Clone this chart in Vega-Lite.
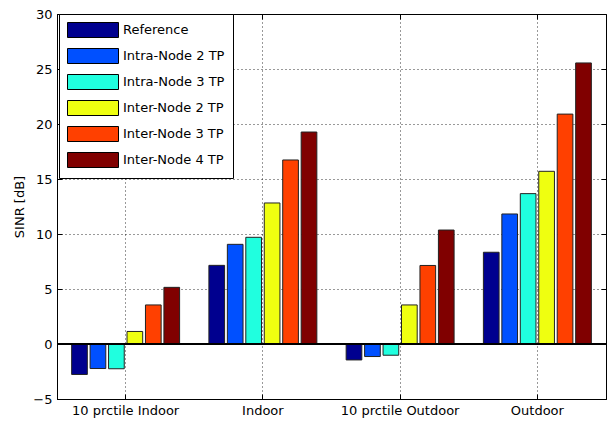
{
  "$schema": "https://vega.github.io/schema/vega-lite/v6.json",
  "autosize": {"type": "none"},
  "padding": {"left": 57, "top": 14, "right": 4, "bottom": 23},
  "width": 549,
  "height": 385,
  "background": "white",
  "config": {
    "view": {"stroke": "black", "strokeWidth": 1},
    "font": "DejaVu Sans",
    "axis": {
      "labelFont": "DejaVu Sans",
      "labelFontSize": 13,
      "labelColor": "black",
      "titleFont": "DejaVu Sans",
      "titleFontSize": 13,
      "titleFontWeight": "normal",
      "titleColor": "black",
      "domainColor": "black",
      "tickColor": "black",
      "gridColor": "black",
      "gridDash": [1, 3],
      "gridOpacity": 0.8,
      "tickSize": -5,
      "zindex": 1
    }
  },
  "data": {
    "values": [
      {"cat": "10 prctile Indoor", "series": "Reference", "v": -2.77},
      {"cat": "10 prctile Indoor", "series": "Intra-Node 2 TP", "v": -2.23},
      {"cat": "10 prctile Indoor", "series": "Intra-Node 3 TP", "v": -2.25},
      {"cat": "10 prctile Indoor", "series": "Inter-Node 2 TP", "v": 1.14},
      {"cat": "10 prctile Indoor", "series": "Inter-Node 3 TP", "v": 3.55},
      {"cat": "10 prctile Indoor", "series": "Inter-Node 4 TP", "v": 5.15},
      {"cat": "Indoor", "series": "Reference", "v": 7.15},
      {"cat": "Indoor", "series": "Intra-Node 2 TP", "v": 9.06},
      {"cat": "Indoor", "series": "Intra-Node 3 TP", "v": 9.7},
      {"cat": "Indoor", "series": "Inter-Node 2 TP", "v": 12.82},
      {"cat": "Indoor", "series": "Inter-Node 3 TP", "v": 16.73},
      {"cat": "Indoor", "series": "Inter-Node 4 TP", "v": 19.27},
      {"cat": "10 prctile Outdoor", "series": "Reference", "v": -1.45},
      {"cat": "10 prctile Outdoor", "series": "Intra-Node 2 TP", "v": -1.14},
      {"cat": "10 prctile Outdoor", "series": "Intra-Node 3 TP", "v": -1.02},
      {"cat": "10 prctile Outdoor", "series": "Inter-Node 2 TP", "v": 3.55},
      {"cat": "10 prctile Outdoor", "series": "Inter-Node 3 TP", "v": 7.14},
      {"cat": "10 prctile Outdoor", "series": "Inter-Node 4 TP", "v": 10.36},
      {"cat": "Outdoor", "series": "Reference", "v": 8.34},
      {"cat": "Outdoor", "series": "Intra-Node 2 TP", "v": 11.82},
      {"cat": "Outdoor", "series": "Intra-Node 3 TP", "v": 13.67},
      {"cat": "Outdoor", "series": "Inter-Node 2 TP", "v": 15.7},
      {"cat": "Outdoor", "series": "Inter-Node 3 TP", "v": 20.9},
      {"cat": "Outdoor", "series": "Inter-Node 4 TP", "v": 25.55}
    ]
  },
  "resolve": {"axis": {"x": "independent", "y": "independent"}},
  "layer": [
    {
      "mark": {"type": "bar", "stroke": "#222222", "strokeWidth": 1},
      "encoding": {
        "x": {
          "field": "cat", "type": "nominal",
          "sort": ["10 prctile Indoor", "Indoor", "10 prctile Outdoor", "Outdoor"],
          "scale": {"paddingInner": 0.2, "paddingOuter": 0.1},
          "axis": {"orient": "bottom", "title": null, "labelAngle": 0, "grid": true, "labelPadding": 10, "domain": true}
        },
        "xOffset": {
          "field": "series", "type": "nominal",
          "sort": ["Reference", "Intra-Node 2 TP", "Intra-Node 3 TP", "Inter-Node 2 TP", "Inter-Node 3 TP", "Inter-Node 4 TP"],
          "scale": {"paddingInner": 0.15, "paddingOuter": 0.05}
        },
        "y": {
          "field": "v", "type": "quantitative",
          "scale": {"domain": [-5, 30], "nice": false, "zero": false},
          "axis": {"orient": "left", "title": "SINR [dB]", "values": [-5, 0, 5, 10, 15, 20, 25, 30], "grid": true, "labelPadding": 10, "titlePadding": 6}
        },
        "color": {
          "field": "series", "type": "nominal",
          "sort": ["Reference", "Intra-Node 2 TP", "Intra-Node 3 TP", "Inter-Node 2 TP", "Inter-Node 3 TP", "Inter-Node 4 TP"],
          "scale": {
            "domain": ["Reference", "Intra-Node 2 TP", "Intra-Node 3 TP", "Inter-Node 2 TP", "Inter-Node 3 TP", "Inter-Node 4 TP"],
            "range": ["#00008f", "#0050ff", "#20ffdf", "#efff10", "#ff4000", "#800000"]
          },
          "legend": {
            "title": null,
            "orient": "none",
            "legendX": 2,
            "legendY": 0,
            "fillColor": "white",
            "strokeColor": "black",
            "padding": 8,
            "rowPadding": 6,
            "symbolType": "M-1,-1H5.8V1H-1Z",
            "symbolSize": 225,
            "symbolStrokeColor": "black",
            "symbolStrokeWidth": 1,
            "symbolOpacity": 1,
            "labelFont": "DejaVu Sans",
            "labelFontSize": 13,
            "labelColor": "black",
            "labelOffset": 40,
            "zindex": 2
          }
        }
      }
    },
    {
      "mark": {"type": "rule", "color": "black", "strokeWidth": 1},
      "encoding": {"y": {"datum": 0, "axis": null}}
    },
    {
      "mark": {"type": "tick", "opacity": 0},
      "encoding": {
        "x": {
          "field": "cat", "type": "nominal",
          "sort": ["10 prctile Indoor", "Indoor", "10 prctile Outdoor", "Outdoor"],
          "axis": {"orient": "top", "title": null, "labels": false, "grid": false, "domain": false}
        },
        "y": {
          "field": "v", "type": "quantitative",
          "axis": {"orient": "right", "title": null, "labels": false, "grid": false, "domain": false, "values": [-5, 0, 5, 10, 15, 20, 25, 30]}
        }
      }
    }
  ]
}
